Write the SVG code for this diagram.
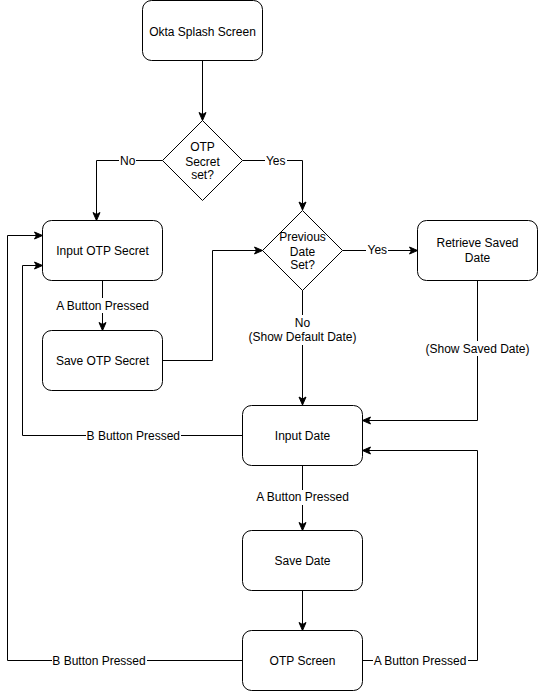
<svg xmlns="http://www.w3.org/2000/svg" width="538" height="691" viewBox="0 0 538 691">
<defs>
<style>
.node{fill:#fff;stroke:#000;stroke-width:1}
.edge{fill:none;stroke:#000;stroke-width:1}
.t{font-family:"Liberation Sans",Arial,Helvetica,sans-serif;font-size:12px;fill:#000;text-anchor:middle}
.lb{fill:#fff;stroke:none}
</style>
<marker id="arr" markerUnits="userSpaceOnUse" markerWidth="10" markerHeight="9" refX="9" refY="4.5" orient="auto">
<path d="M1,1 L9,4.5 L1,8 L3,4.5 z" fill="#000" stroke="#000" stroke-width="1"/>
</marker>
</defs>
<rect width="538" height="691" fill="#fff"/>
<g id="connectors">
<path class="edge" d="M202.5,61 L202.5,120.5" marker-end="url(#arr)"/>
<path class="edge" d="M162.5,160.5 L96.5,160.5 L96.5,220.5" marker-end="url(#arr)"/>
<path class="edge" d="M242.5,160.5 L302.5,160.5 L302.5,210" marker-end="url(#arr)"/>
<path class="edge" d="M102.5,280.5 L102.5,330.5" marker-end="url(#arr)"/>
<path class="edge" d="M162.5,360.5 L212.5,360.5 L212.5,250.5 L262.5,250.5" marker-end="url(#arr)"/>
<path class="edge" d="M342.5,250.5 L417.5,250.5" marker-end="url(#arr)"/>
<path class="edge" d="M302.5,290 L302.5,405" marker-end="url(#arr)"/>
<path class="edge" d="M477.5,280.5 L477.5,420.5 L362.5,420.5" marker-end="url(#arr)"/>
<path class="edge" d="M242.5,435.5 L22.5,435.5 L22.5,265.5 L42.5,265.5" marker-end="url(#arr)"/>
<path class="edge" d="M302.5,465.5 L302.5,530.5" marker-end="url(#arr)"/>
<path class="edge" d="M302.5,590.5 L302.5,630.5" marker-end="url(#arr)"/>
<path class="edge" d="M242.5,660.5 L7.5,660.5 L7.5,235.5 L42.5,235.5" marker-end="url(#arr)"/>
<path class="edge" d="M362.5,660.5 L477.5,660.5 L477.5,450.5 L362.5,450.5" marker-end="url(#arr)"/>
<g id="edge-labels">
<rect class="lb" x="119" y="153" width="17" height="15"/>
<text class="t" x="127.7" y="164.5">No</text>
<rect class="lb" x="265" y="153" width="22" height="15"/>
<text class="t" x="275.7" y="164.5">Yes</text>
<rect class="lb" x="55" y="298" width="95" height="15"/>
<text class="t" x="102.5" y="309.7">A Button Pressed</text>
<rect class="lb" x="366" y="243" width="22" height="15"/>
<text class="t" x="377.3" y="254">Yes</text>
<rect class="lb" x="248" y="315" width="110" height="30"/>
<text class="t" x="302.5" y="326.7">No</text>
<text class="t" x="302.5" y="341.3">(Show Default Date)</text>
<rect class="lb" x="425" y="341" width="106" height="15"/>
<text class="t" x="477.5" y="353">(Show Saved Date)</text>
<rect class="lb" x="86" y="428" width="95" height="15"/>
<text class="t" x="133.3" y="439.5">B Button Pressed</text>
<rect class="lb" x="255" y="490" width="95" height="15"/>
<text class="t" x="302.5" y="501.3">A Button Pressed</text>
<rect class="lb" x="52" y="653" width="95" height="15"/>
<text class="t" x="99" y="664.5">B Button Pressed</text>
<rect class="lb" x="373" y="653" width="95" height="15"/>
<text class="t" x="420" y="664.5">A Button Pressed</text>
</g>
</g>
<g id="okta-splash">
<rect class="node" x="142.5" y="0.5" width="120" height="60" rx="9" ry="9"/>
<text class="t" x="202.5" y="35.5">Okta Splash Screen</text>
</g>
<g id="otp-secret-set">
<path class="node" d="M202.5,120.5 L242.5,160.5 L202.5,200.5 L162.5,160.5 Z"/>
<text class="t" x="202.5" y="150.5">OTP</text>
<text class="t" x="202.5" y="165.5">Secret</text>
<text class="t" x="202.5" y="179">set?</text>
</g>
<g id="input-otp-secret">
<rect class="node" x="42.5" y="220.5" width="120" height="60" rx="9" ry="9"/>
<text class="t" x="102.5" y="254.5">Input OTP Secret</text>
</g>
<g id="save-otp-secret">
<rect class="node" x="42.5" y="330.5" width="120" height="60" rx="9" ry="9"/>
<text class="t" x="102.5" y="364.5">Save OTP Secret</text>
</g>
<g id="previous-date-set">
<path class="node" d="M302.5,210.5 L342.5,250.5 L302.5,290.5 L262.5,250.5 Z"/>
<text class="t" x="302.5" y="240.7">Previous</text>
<text class="t" x="302.5" y="255.7">Date</text>
<text class="t" x="302.5" y="269">Set?</text>
</g>
<g id="retrieve-saved-date">
<rect class="node" x="417.5" y="220.5" width="120" height="60" rx="9" ry="9"/>
<text class="t" x="477.5" y="247.3">Retrieve Saved</text>
<text class="t" x="477.5" y="261.7">Date</text>
</g>
<g id="input-date">
<rect class="node" x="242.5" y="405.5" width="120" height="60" rx="9" ry="9"/>
<text class="t" x="302.5" y="439.5">Input Date</text>
</g>
<g id="save-date">
<rect class="node" x="242.5" y="530.5" width="120" height="60" rx="9" ry="9"/>
<text class="t" x="302.5" y="564.5">Save Date</text>
</g>
<g id="otp-screen">
<rect class="node" x="242.5" y="630.5" width="120" height="60" rx="9" ry="9"/>
<text class="t" x="302.5" y="664.5">OTP Screen</text>
</g>
</svg>
